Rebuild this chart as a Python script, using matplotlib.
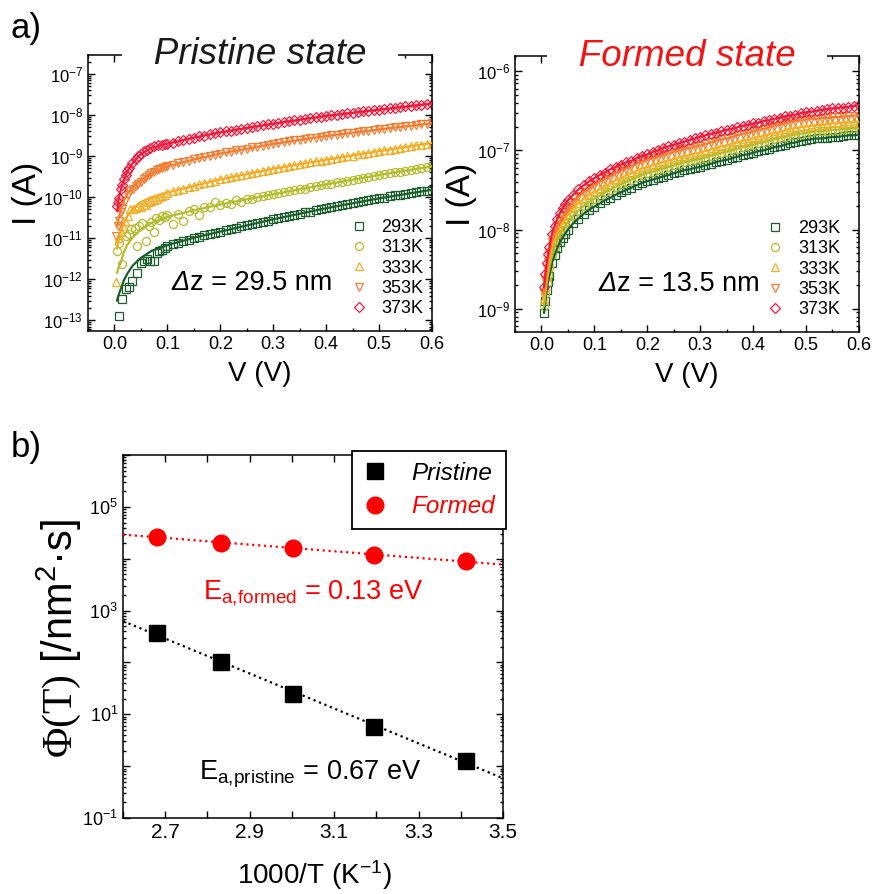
import matplotlib.pyplot as plt
import numpy as np
from matplotlib.ticker import LogLocator, MultipleLocator, FormatStrFormatter, NullFormatter

plt.rcParams['font.family'] = 'Liberation Sans'
plt.rcParams['mathtext.fontset'] = 'custom'
plt.rcParams['mathtext.rm'] = 'Liberation Serif'
plt.rcParams['mathtext.it'] = 'Liberation Sans:italic'
plt.rcParams['mathtext.bf'] = 'Liberation Sans:bold'

# ---- panel a: I-V curves (log10 of current in A) ----
labels = ['293K', '313K', '333K', '353K', '373K']
colors = ['#1d5e2f', '#b3bc2c', '#f5ac22', '#f57b2e', '#ee1a3c']
markers = ['s', 'o', '^', 'v', 'D']

v_hi = np.round(np.arange(0.10, 0.6001, 0.01), 2)
v_fit = [0.005, 0.008, 0.012, 0.018, 0.025, 0.035, 0.05, 0.07, 0.1, 0.15, 0.2, 0.3, 0.4, 0.5, 0.6]

# pristine state, low-bias points
pr293_v = [0.0085, 0.015, 0.021, 0.027, 0.034, 0.043, 0.05, 0.056, 0.062, 0.068, 0.075, 0.08, 0.085, 0.09, 0.095]
pr293_lo = [-12.89, -12.47, -12.24, -12.18, -12.04, -11.84, -11.60, -11.55, -11.50, -11.56, -11.55, -11.36, -11.32, -11.28, -11.24]
pr313_v = [0.004, 0.009, 0.015, 0.021, 0.027, 0.032, 0.038, 0.043, 0.047, 0.053, 0.059, 0.065, 0.07, 0.075, 0.079, 0.085, 0.09, 0.095]
pr313_lo = [-11.31, -11.12, -11.63, -10.95, -10.91, -10.78, -10.74, -11.19, -10.70, -10.62, -11.07, -10.70, -10.60, -10.86, -10.50, -10.56, -10.47, -10.48]
pr333_v = [0.003, 0.008, 0.012, 0.016, 0.02, 0.025, 0.03, 0.035, 0.04, 0.045, 0.05, 0.055, 0.06, 0.065, 0.07, 0.075, 0.08, 0.085, 0.09, 0.095]
pr333_lo = [-12.06, -11.00, -10.86, -10.70, -10.58, -10.46, -10.30, -10.30, -10.26, -10.22, -10.24, -10.20, -10.18, -10.12, -10.10, -10.06, -10.04, -10.00, -9.98, -9.94]
pr353_v = [0.003, 0.006, 0.0085, 0.012, 0.015, 0.02, 0.025, 0.03, 0.035, 0.04, 0.045, 0.05, 0.055, 0.06, 0.065, 0.07, 0.075, 0.08, 0.085, 0.09, 0.095]
pr353_lo = [-10.95, -10.70, -10.58, -10.35, -10.30, -10.10, -9.95, -9.86, -9.80, -9.74, -9.68, -9.62, -9.56, -9.50, -9.46, -9.42, -9.39, -9.35, -9.32, -9.30, -9.27]
pr373_v = [0.004, 0.006, 0.0085, 0.012, 0.015, 0.018, 0.021, 0.024, 0.028, 0.034, 0.04, 0.045, 0.05, 0.056, 0.062, 0.068, 0.075, 0.082, 0.09, 0.095]
pr373_lo = [-10.22, -10.12, -10.02, -9.81, -9.70, -9.57, -9.47, -9.37, -9.28, -9.17, -9.06, -9.00, -8.94, -8.88, -8.84, -8.80, -8.76, -8.74, -8.72, -8.71]

# pristine state, 0.10 ... 0.60 V
pr293_hi = [-11.19, -11.15, -11.11, -11.07, -11.04, -11.00, -10.97, -10.93, -10.90, -10.87,
            -10.84, -10.81, -10.78, -10.74, -10.71, -10.68, -10.65, -10.62, -10.60, -10.57,
            -10.54, -10.51, -10.48, -10.46, -10.43, -10.40, -10.37, -10.35, -10.32, -10.30,
            -10.27, -10.24, -10.22, -10.19, -10.17, -10.14, -10.12, -10.10, -10.07, -10.05,
            -10.03, -10.01, -9.98, -9.96, -9.94, -9.92, -9.90, -9.88, -9.86, -9.84,
            -9.82]
pr313_hi = [-10.43, -10.66, -10.40, -10.58, -10.34, -10.30, -10.44, -10.25, -10.23, -10.12,
            -10.20, -10.14, -10.17, -10.08, -10.11, -10.04, -10.05, -10.00, -9.98, -9.95,
            -9.93, -9.91, -9.88, -9.86, -9.83, -9.81, -9.79, -9.76, -9.74, -9.71,
            -9.69, -9.67, -9.64, -9.62, -9.60, -9.58, -9.55, -9.53, -9.51, -9.48,
            -9.46, -9.44, -9.42, -9.40, -9.38, -9.36, -9.34, -9.32, -9.29, -9.27,
            -9.25]
pr333_hi = [-9.90, -9.86, -9.83, -9.79, -9.76, -9.73, -9.69, -9.66, -9.63, -9.60,
            -9.57, -9.54, -9.52, -9.49, -9.46, -9.44, -9.41, -9.38, -9.36, -9.33,
            -9.31, -9.29, -9.26, -9.24, -9.22, -9.20, -9.18, -9.15, -9.13, -9.11,
            -9.09, -9.07, -9.05, -9.03, -9.01, -8.99, -8.96, -8.94, -8.92, -8.90,
            -8.88, -8.86, -8.84, -8.82, -8.80, -8.78, -8.76, -8.74, -8.72, -8.70,
            -8.68]
pr353_hi = [-9.25, -9.21, -9.18, -9.14, -9.11, -9.08, -9.05, -9.02, -8.99, -8.97,
            -8.94, -8.91, -8.89, -8.86, -8.84, -8.82, -8.79, -8.77, -8.75, -8.72,
            -8.70, -8.68, -8.66, -8.64, -8.62, -8.60, -8.59, -8.57, -8.55, -8.53,
            -8.51, -8.49, -8.48, -8.46, -8.45, -8.43, -8.41, -8.40, -8.38, -8.37,
            -8.35, -8.33, -8.32, -8.30, -8.29, -8.27, -8.26, -8.24, -8.23, -8.21,
            -8.20]
pr373_hi = [-8.70, -8.67, -8.64, -8.61, -8.58, -8.55, -8.52, -8.50, -8.47, -8.45,
            -8.42, -8.40, -8.38, -8.36, -8.33, -8.31, -8.29, -8.27, -8.25, -8.23,
            -8.21, -8.19, -8.17, -8.15, -8.13, -8.11, -8.10, -8.08, -8.06, -8.04,
            -8.02, -8.00, -7.99, -7.97, -7.96, -7.94, -7.93, -7.91, -7.90, -7.88,
            -7.87, -7.85, -7.84, -7.82, -7.81, -7.79, -7.78, -7.76, -7.75, -7.73,
            -7.72]

# pristine state fits, on v_fit
pr293_fit = [-12.52, -12.38, -12.24, -12.02, -11.85, -11.66, -11.48, -11.31, -11.17, -10.99, -10.84, -10.54, -10.27, -10.03, -9.82]
pr313_fit = [-11.84, -11.72, -11.59, -11.33, -11.15, -10.97, -10.80, -10.63, -10.48, -10.32, -10.18, -9.93, -9.69, -9.46, -9.25]
pr333_fit = [-11.25, -11.05, -10.87, -10.64, -10.45, -10.28, -10.12, -10.00, -9.89, -9.73, -9.57, -9.31, -9.09, -8.88, -8.68]
pr353_fit = [-10.70, -10.52, -10.30, -10.08, -9.90, -9.74, -9.58, -9.42, -9.25, -9.08, -8.94, -8.70, -8.51, -8.35, -8.20]
pr373_fit = [-10.34, -10.05, -9.82, -9.58, -9.36, -9.16, -8.95, -8.80, -8.70, -8.55, -8.42, -8.21, -8.02, -7.87, -7.72]

# formed state
fo_v = [0.005, 0.0075, 0.01, 0.0125, 0.015, 0.02, 0.025, 0.03, 0.035, 0.04, 0.045, 0.05, 0.06, 0.07, 0.08, 0.09]
fo293_lo = [-9.05, -8.90, -8.76, -8.66, -8.58, -8.42, -8.32, -8.23, -8.16, -8.10, -8.05, -8.00, -7.92, -7.86, -7.80, -7.75]
fo313_lo = [-8.96, -8.81, -8.67, -8.57, -8.48, -8.32, -8.22, -8.13, -8.06, -8.00, -7.95, -7.90, -7.82, -7.76, -7.70, -7.65]
fo333_lo = [-8.88, -8.72, -8.58, -8.47, -8.39, -8.23, -8.13, -8.04, -7.97, -7.91, -7.86, -7.81, -7.73, -7.67, -7.61, -7.56]
fo353_lo = [-8.80, -8.64, -8.50, -8.39, -8.31, -8.15, -8.05, -7.96, -7.89, -7.83, -7.78, -7.73, -7.65, -7.58, -7.53, -7.48]
fo373_lo = [-8.73, -8.56, -8.42, -8.31, -8.22, -8.05, -7.95, -7.86, -7.79, -7.73, -7.68, -7.63, -7.56, -7.49, -7.44, -7.39]

fo293_hi = [-7.71, -7.67, -7.63, -7.60, -7.56, -7.53, -7.50, -7.47, -7.44, -7.41,
            -7.39, -7.37, -7.35, -7.33, -7.31, -7.29, -7.27, -7.25, -7.24, -7.22,
            -7.21, -7.19, -7.17, -7.15, -7.13, -7.12, -7.10, -7.08, -7.06, -7.05,
            -7.03, -7.01, -7.00, -6.98, -6.96, -6.95, -6.93, -6.91, -6.90, -6.88,
            -6.87, -6.86, -6.85, -6.85, -6.84, -6.83, -6.83, -6.82, -6.81, -6.81,
            -6.80]
fo313_hi = [-7.61, -7.57, -7.53, -7.50, -7.46, -7.43, -7.40, -7.37, -7.34, -7.31,
            -7.29, -7.27, -7.25, -7.23, -7.21, -7.19, -7.17, -7.15, -7.14, -7.12,
            -7.11, -7.09, -7.07, -7.05, -7.03, -7.02, -7.00, -6.98, -6.96, -6.95,
            -6.93, -6.91, -6.90, -6.88, -6.86, -6.85, -6.83, -6.81, -6.80, -6.79,
            -6.78, -6.77, -6.76, -6.76, -6.75, -6.74, -6.74, -6.73, -6.73, -6.72,
            -6.72]
fo333_hi = [-7.53, -7.49, -7.45, -7.42, -7.38, -7.35, -7.32, -7.29, -7.26, -7.23,
            -7.21, -7.19, -7.17, -7.15, -7.13, -7.11, -7.09, -7.07, -7.06, -7.04,
            -7.03, -7.01, -6.99, -6.97, -6.95, -6.94, -6.92, -6.90, -6.88, -6.87,
            -6.85, -6.83, -6.82, -6.80, -6.78, -6.77, -6.75, -6.73, -6.72, -6.71,
            -6.70, -6.69, -6.68, -6.68, -6.67, -6.66, -6.66, -6.65, -6.65, -6.64,
            -6.64]
fo353_hi = [-7.44, -7.40, -7.36, -7.33, -7.29, -7.26, -7.23, -7.20, -7.17, -7.14,
            -7.12, -7.10, -7.08, -7.06, -7.04, -7.02, -7.00, -6.98, -6.97, -6.95,
            -6.94, -6.92, -6.90, -6.88, -6.86, -6.85, -6.83, -6.81, -6.79, -6.78,
            -6.76, -6.74, -6.73, -6.71, -6.69, -6.68, -6.66, -6.64, -6.63, -6.62,
            -6.61, -6.60, -6.60, -6.59, -6.59, -6.58, -6.58, -6.57, -6.57, -6.56,
            -6.56]
fo373_hi = [-7.35, -7.31, -7.28, -7.24, -7.21, -7.18, -7.15, -7.13, -7.10, -7.07,
            -7.05, -7.02, -7.00, -6.97, -6.95, -6.93, -6.91, -6.89, -6.87, -6.85,
            -6.83, -6.81, -6.79, -6.78, -6.76, -6.74, -6.73, -6.71, -6.69, -6.68,
            -6.66, -6.65, -6.63, -6.62, -6.60, -6.59, -6.57, -6.56, -6.55, -6.53,
            -6.52, -6.51, -6.50, -6.49, -6.48, -6.47, -6.46, -6.46, -6.45, -6.44,
            -6.43]

# ---- panel b: Arrhenius plot ----
T_K = [373, 353, 333, 313, 293]
phi_pristine = [363, 102, 25.1, 5.75, 1.26]
phi_formed = [26700, 20500, 15800, 11700, 9100]

pr_v = [pr293_v, pr313_v, pr333_v, pr353_v, pr373_v]
pr_lo = [pr293_lo, pr313_lo, pr333_lo, pr353_lo, pr373_lo]
pr_hi = [pr293_hi, pr313_hi, pr333_hi, pr353_hi, pr373_hi]
pr_fit = [pr293_fit, pr313_fit, pr333_fit, pr353_fit, pr373_fit]
fo_lo = [fo293_lo, fo313_lo, fo333_lo, fo353_lo, fo373_lo]
fo_hi = [fo293_hi, fo313_hi, fo333_hi, fo353_hi, fo373_hi]

fig = plt.figure(figsize=(8.77, 8.94), dpi=100)
ax1 = fig.add_axes([0.1003, 0.6298, 0.3922, 0.3087])
ax2 = fig.add_axes([0.5872, 0.6286, 0.3922, 0.3087])
ax3 = fig.add_axes([0.1403, 0.0850, 0.4333, 0.4060])


def style_log_axes(ax, tick_fs):
    ax.tick_params(which='both', direction='in', top=True, right=True, width=1.0, labelsize=tick_fs)
    ax.tick_params(which='major', length=5)
    ax.tick_params(which='minor', length=2.5)
    for s in ax.spines.values():
        s.set_linewidth(1.1)
    ax.yaxis.set_minor_locator(LogLocator(base=10, subs=np.arange(2, 10), numticks=30))
    ax.yaxis.set_minor_formatter(NullFormatter())


def iv_panel(ax, xs, ys, ys_hi, fits, title, title_color, dz, leg_x):
    for i in range(5):
        x = np.concatenate([xs[i], v_hi])
        y = 10 ** np.concatenate([ys[i], ys_hi[i]])
        ms = 5.2 if markers[i] == 'D' else 5.8
        ax.plot(x, y, linestyle='none', marker=markers[i], ms=ms, mfc='none',
                mec=colors[i], mew=0.9, label=labels[i], zorder=2)
    for i in range(5):
        if fits is None:
            x = np.concatenate([xs[i], v_hi])
            y = 10 ** np.concatenate([ys[i], ys_hi[i]])
        else:
            x, y = v_fit, 10 ** np.array(fits[i])
        ax.plot(x, y, color=colors[i], lw=1.6, zorder=3)

    ax.set_yscale('log')
    ax.set_xlim(-0.05, 0.6)
    ax.xaxis.set_major_locator(MultipleLocator(0.1))
    ax.xaxis.set_minor_locator(MultipleLocator(0.05))
    ax.xaxis.set_major_formatter(FormatStrFormatter('%.1f'))
    style_log_axes(ax, 13)
    ax.tick_params(axis='y', labelsize=12)
    ax.yaxis.set_major_locator(LogLocator(base=10, numticks=30))

    ax.set_xlabel('V (V)', fontsize=20)
    ax.xaxis.set_label_coords(0.5, -0.11)
    ax.set_ylabel('I (A)', fontsize=24)

    ax.text(0.5, 1.0, '   ' + title + '   ', transform=ax.transAxes, ha='center', va='center',
            fontsize=26.5, style='italic', color=title_color, zorder=10, clip_on=False,
            bbox=dict(facecolor='white', edgecolor='none', pad=0.5))
    # italic delta followed by upright text
    d = ax.text(0.243, 0.174, 'Δ', transform=ax.transAxes, ha='left', va='center',
                fontsize=19.5, style='italic')
    ax.annotate('z = ' + dz, xy=(1, 0), xycoords=d, ha='left', va='bottom', fontsize=19.5)
    ax.legend(loc='lower right', bbox_to_anchor=(leg_x, 0.05), frameon=False, fontsize=13,
              handletextpad=0.75, labelspacing=0.18, borderpad=0, handlelength=1.0,
              borderaxespad=0)


iv_panel(ax1, pr_v, pr_lo, pr_hi, pr_fit, 'Pristine state', '#1a1a1a', '29.5 nm', 0.975)
iv_panel(ax2, [fo_v] * 5, fo_lo, fo_hi, None, 'Formed state', '#f21414', '13.5 nm', 0.945)

ax1.set_ylim(5.5e-14, 2.9e-7)
ax2.set_ylim(5.1e-10, 1.55e-6)
ax1.yaxis.set_label_coords(-0.132, 0.5)
ax2.yaxis.set_label_coords(-0.11, 0.5)

# ---- panel b ----
inv_T = 1000.0 / np.array(T_K)
ax3.plot(inv_T, phi_pristine, linestyle='none', marker='s', ms=11, color='black', label='Pristine', zorder=4)
ax3.plot(inv_T, phi_formed, linestyle='none', marker='o', ms=12, color='#ff0000', label='Formed', zorder=4)

xfit = np.array([2.6, 3.5])
for vals, c in [(phi_pristine, 'black'), (phi_formed, '#ff0000')]:
    k, b = np.polyfit(inv_T, np.log10(vals), 1)
    ax3.plot(xfit, 10 ** (k * xfit + b), linestyle=':', color=c, lw=1.6, zorder=3)

ax3.set_yscale('log')
ax3.set_xlim(2.6, 3.5)
ax3.set_ylim(1e-1, 1e6)
style_log_axes(ax3, 15)
dec = [10.0 ** e for e in range(-1, 7)]
ax3.set_yticks(dec)
ax3.set_yticklabels([r'$\mathdefault{10^{%d}}$' % e if e % 2 else '' for e in range(-1, 7)])
ax3.tick_params(axis='y', labelsize=13)
xt = [2.6, 2.7, 2.8, 2.9, 3.0, 3.1, 3.2, 3.3, 3.4, 3.5]
ax3.set_xticks(xt)
ax3.set_xticklabels(['', '2.7', '', '2.9', '', '3.1', '', '3.3', '', '3.5'])
ax3.xaxis.set_minor_locator(plt.NullLocator())

ax3.set_xlabel(r'1000/T (K$^{\mathdefault{-1}}$)', fontsize=20)
ax3.xaxis.set_label_coords(0.503, -0.11)
ax3.set_ylabel(r'$\Phi\mathrm{(T)}$ [/nm$^{\mathdefault{2}}$·s]', fontsize=30)
ax3.yaxis.set_label_coords(-0.105, 0.496)

ax3.text(0.211, 0.603, r'E$_{\mathdefault{a{,}formed}}$ = 0.13 eV', transform=ax3.transAxes,
         color='#ff0000', fontsize=19.5, ha='left', va='baseline')
ax3.text(0.200, 0.105, r'E$_{\mathdefault{a{,}pristine}}$ = 0.67 eV', transform=ax3.transAxes,
         color='black', fontsize=19.5, ha='left', va='baseline')

leg = ax3.legend(loc='upper right', bbox_to_anchor=(1.008, 1.011), fontsize=17.5,
                 handlelength=1.0, handletextpad=1.0, labelspacing=0.42, borderpad=0.45,
                 borderaxespad=0, fancybox=False, edgecolor='black', framealpha=1)
leg.get_frame().set_linewidth(1.3)
for t in leg.get_texts():
    t.set_style('italic')
leg.get_texts()[1].set_color('#ff0000')

fig.text(0.012, 0.968, 'a)', fontsize=25, va='center', ha='left')
fig.text(0.012, 0.5, 'b)', fontsize=25, va='center', ha='left')

fig.savefig('out.png', dpi=100)
